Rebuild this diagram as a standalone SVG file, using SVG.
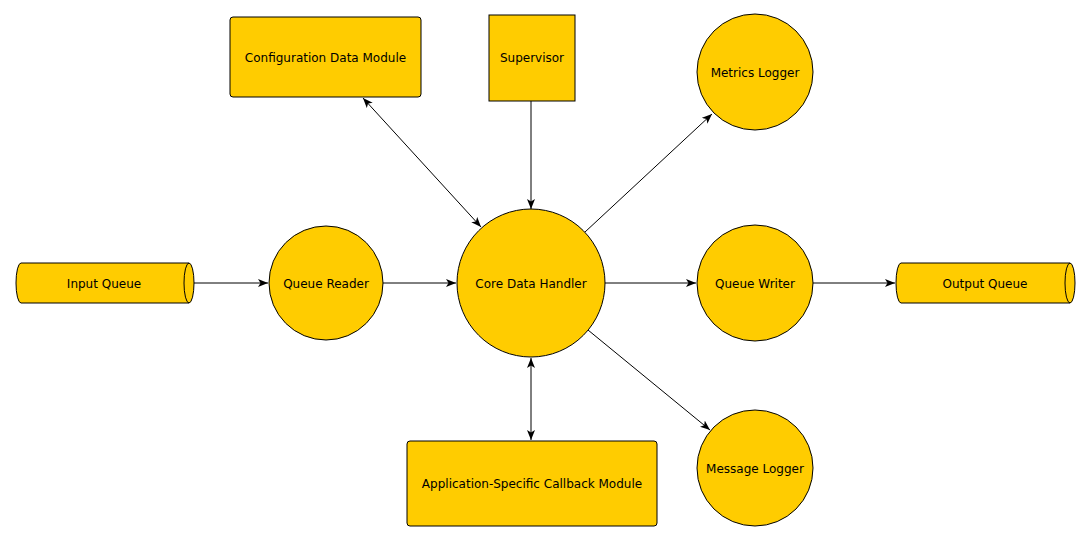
<svg xmlns="http://www.w3.org/2000/svg" width="1090" height="541" viewBox="0 0 1090 541">
<style>
.n{fill:#FFCC00;stroke:#000;stroke-width:1}
.t{font-family:"DejaVu Sans",sans-serif;font-size:12px;fill:#000;text-anchor:middle;dominant-baseline:central}
.c{stroke:#000;stroke-width:1;fill:none}
</style>
<defs>
<marker id="a" viewBox="0 0 10 8" refX="10" refY="4" markerWidth="10" markerHeight="8" markerUnits="userSpaceOnUse" orient="auto-start-reverse">
<path d="M0,0 L10,4 L0,8 L2.5,4 Z" fill="#000"/>
</marker>
</defs>
<rect width="1090" height="541" fill="#fff"/>
<g id="connectors">
<line class="c" x1="194" y1="283" x2="268" y2="283" marker-end="url(#a)"/>
<line class="c" x1="383" y1="283" x2="456" y2="283" marker-end="url(#a)"/>
<line class="c" x1="605" y1="283" x2="696" y2="283" marker-end="url(#a)"/>
<line class="c" x1="813" y1="283" x2="895" y2="283" marker-end="url(#a)"/>
<line class="c" x1="531" y1="101" x2="531" y2="209" marker-end="url(#a)"/>
<line class="c" x1="363" y1="98" x2="481" y2="227" marker-start="url(#a)" marker-end="url(#a)"/>
<line class="c" x1="531" y1="358" x2="531" y2="440" marker-start="url(#a)" marker-end="url(#a)"/>
<line class="c" x1="585" y1="232" x2="712" y2="114" marker-end="url(#a)"/>
<line class="c" x1="588" y1="330" x2="710" y2="430" marker-end="url(#a)"/>
</g>
<g id="input-queue">
<path class="n" d="M21,263 L189,263 A5,20 0 0 1 189,303 L21,303 A5,20 0 0 1 21,263 Z"/>
<path class="c" d="M189,263 A5,20 0 0 0 189,303"/>
<text class="t" x="104" y="284">Input Queue</text>
</g>
<g id="output-queue">
<path class="n" d="M901,263 L1070,263 A5,20 0 0 1 1070,303 L901,303 A5,20 0 0 1 901,263 Z"/>
<path class="c" d="M1070,263 A5,20 0 0 0 1070,303"/>
<text class="t" x="985" y="284">Output Queue</text>
</g>
<g id="queue-reader">
<circle class="n" cx="326" cy="283" r="57"/>
<text class="t" x="326" y="284">Queue Reader</text>
</g>
<g id="core-data-handler">
<circle class="n" cx="531" cy="283" r="74"/>
<text class="t" x="531" y="284">Core Data Handler</text>
</g>
<g id="queue-writer">
<circle class="n" cx="755" cy="283" r="58"/>
<text class="t" x="755" y="284">Queue Writer</text>
</g>
<g id="metrics-logger">
<circle class="n" cx="755" cy="72" r="58"/>
<text class="t" x="755" y="73">Metrics Logger</text>
</g>
<g id="message-logger">
<circle class="n" cx="755" cy="468" r="58"/>
<text class="t" x="755" y="469">Message Logger</text>
</g>
<g id="configuration-data-module">
<rect class="n" x="230" y="17" width="191" height="80" rx="3"/>
<text class="t" x="325.5" y="58">Configuration Data Module</text>
</g>
<g id="supervisor">
<rect class="n" x="489" y="15" width="86" height="86"/>
<text class="t" x="532" y="58">Supervisor</text>
</g>
<g id="callback-module">
<rect class="n" x="407" y="441" width="250" height="85" rx="3"/>
<text class="t" x="532" y="484">Application-Specific Callback Module</text>
</g>
</svg>
